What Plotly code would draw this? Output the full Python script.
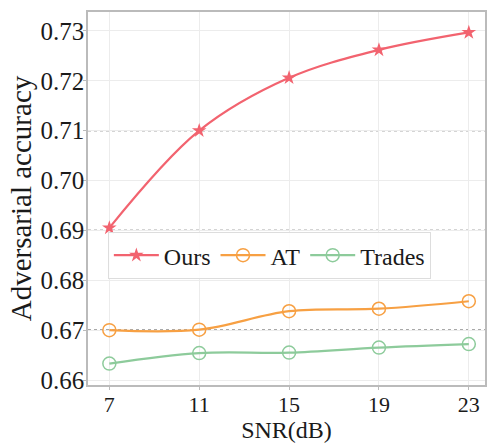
import plotly.graph_objects as go

snr = [7, 11, 15, 19, 23]
ours = [0.6905, 0.7100, 0.7206, 0.7262, 0.7297]
at = [0.6700, 0.6701, 0.6738, 0.6743, 0.6758]
trades = [0.6633, 0.6654, 0.6655, 0.6665, 0.6672]
ref_lines = [0.71, 0.69, 0.67]

FONT = "Liberation Serif, Times New Roman, serif"

fig = go.Figure()
fig.add_trace(go.Scatter(x=snr, y=ours, name="Ours", mode="lines+markers",
                         line=dict(color="#F2636F", width=2.2, shape="spline"),
                         marker=dict(symbol="star", size=11, color="#F2636F")))
fig.add_trace(go.Scatter(x=snr, y=at, name="AT", mode="lines+markers",
                         line=dict(color="#F7A043", width=2.2, shape="spline"),
                         marker=dict(symbol="circle-open", size=13, color="#F7A043", line=dict(width=1.5))))
fig.add_trace(go.Scatter(x=snr, y=trades, name="Trades", mode="lines+markers",
                         line=dict(color="#8DCB9B", width=2.2, shape="spline"),
                         marker=dict(symbol="circle-open", size=13, color="#8DCB9B", line=dict(width=1.5))))

for v in ref_lines:
    fig.add_shape(type="line", xref="paper", x0=0, x1=1, yref="y", y0=v, y1=v,
                  line=dict(color="#555555", width=1.3, dash="dot"), layer="below")

fig.update_layout(
    width=489, height=443,
    margin=dict(l=88, r=2, t=12, b=58),
    paper_bgcolor="white", plot_bgcolor="white",
    font=dict(family=FONT, size=22, color="#1a1a1a"),
    legend=dict(orientation="h", x=0.05, y=0.41, xanchor="left", yanchor="top",
                bgcolor="rgba(255,255,255,0.9)", bordercolor="#dddddd", borderwidth=1,
                font=dict(family=FONT, size=24), itemwidth=45, tracegroupgap=0),
    showlegend=True,
)
fig.update_xaxes(range=[6.05, 23.72], tickvals=snr, ticktext=[str(s) for s in snr],
                 showgrid=True, gridcolor="#ececec", gridwidth=1,
                 showline=True, linecolor="#bbbbbb", linewidth=1.5, mirror=True,
                 ticks="outside", ticklen=3, tickcolor="#bbbbbb",
                 ticklabelstandoff=-4,
                 tickfont=dict(family=FONT, size=22),
                 title=dict(text="SNR(dB)", font=dict(family=FONT, size=24), standoff=4),
                 zeroline=False)
fig.update_yaxes(range=[0.659, 0.7338], tickvals=[0.66, 0.67, 0.68, 0.69, 0.70, 0.71, 0.72, 0.73],
                 tickformat=".2f",
                 showgrid=True, gridcolor="#ececec", gridwidth=1,
                 showline=True, linecolor="#bbbbbb", linewidth=1.5, mirror=True,
                 ticks="outside", ticklen=3, tickcolor="#bbbbbb",
                 ticklabelstandoff=-6,
                 tickfont=dict(family=FONT, size=25),
                 title=dict(text="Adversarial accuracy", font=dict(family=FONT, size=29), standoff=0),
                 zeroline=False)

fig.write_html("out.html")
